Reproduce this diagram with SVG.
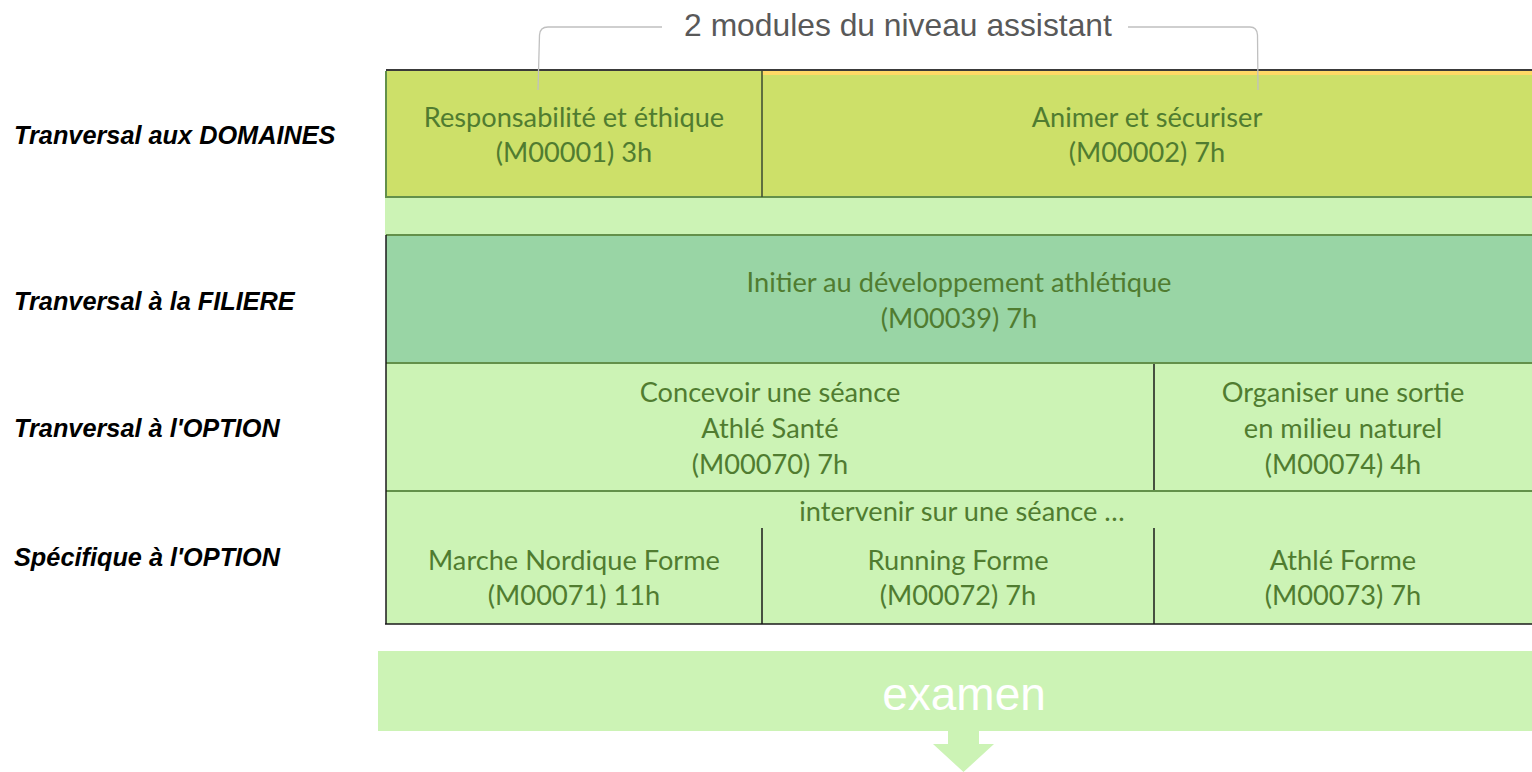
<svg xmlns="http://www.w3.org/2000/svg" width="1532" height="772" viewBox="0 0 1532 772">
<style>
.lbl{font-family:"Liberation Sans",Arial,sans-serif;font-weight:bold;font-style:italic;font-size:25.3px;fill:#000}
.cell{font-family:Lato,"Noto Sans",sans-serif;font-size:27.2px;fill:#507c30;text-anchor:middle}
.gb{stroke:#63904a;stroke-width:2;fill:none}
.dk{stroke:#1a1a1a;stroke-width:1.5;fill:none}
.br{stroke:#c0c0c0;stroke-width:1.3;fill:none}
</style>
<rect width="1532" height="772" fill="#ffffff"/>
<g id="title">
<text x="898" y="36" font-family="Liberation Sans,Arial,sans-serif" font-size="31.8" fill="#595959" text-anchor="middle">2 modules du niveau assistant</text>
</g>
<g id="labels">
<text class="lbl" x="14" y="144">Tranversal aux DOMAINES</text>
<text class="lbl" x="14" y="310">Tranversal à la FILIERE</text>
<text class="lbl" x="14" y="437">Tranversal à l'OPTION</text>
<text class="lbl" x="14" y="566">Spécifique à l'OPTION</text>
</g>
<g id="band">
<rect x="385" y="197" width="1147" height="38" fill="#ccf3b5"/>
</g>
<g id="m00001">
<rect x="386" y="71" width="376" height="126" fill="#cde069"/>
<text class="cell" x="574" y="127">Responsabilité et éthique</text>
<text class="cell" x="574" y="162">(M00001) 3h</text>
</g>
<g id="m00002">
<rect x="762" y="71" width="770" height="126" fill="#cde069"/>
<line x1="762" y1="73" x2="1532" y2="73" stroke="#ffd966" stroke-width="4"/>
<text class="cell" x="1147" y="127">Animer et sécuriser</text>
<text class="cell" x="1147" y="162">(M00002) 7h</text>
</g>
<g id="m00039">
<rect x="386" y="235" width="1146" height="128" fill="#99d5a5"/>
<text class="cell" x="959" y="292">Initier au développement athlétique</text>
<text class="cell" x="959" y="328">(M00039) 7h</text>
</g>
<g id="m00070">
<rect x="386" y="363" width="768" height="128" fill="#ccf3b5"/>
<text class="cell" x="770" y="402">Concevoir une séance</text>
<text class="cell" x="770" y="438">Athlé Santé</text>
<text class="cell" x="770" y="474">(M00070) 7h</text>
</g>
<g id="m00074">
<rect x="1154" y="363" width="378" height="128" fill="#ccf3b5"/>
<text class="cell" x="1343" y="402">Organiser une sortie</text>
<text class="cell" x="1343" y="438">en milieu naturel</text>
<text class="cell" x="1343" y="474">(M00074) 4h</text>
</g>
<g id="specifique">
<rect x="386" y="491" width="1146" height="133" fill="#ccf3b5"/>
<text class="cell" x="962" y="521">intervenir sur une séance …</text>
</g>
<g id="m00071">
<text class="cell" x="574" y="570">Marche Nordique Forme</text>
<text class="cell" x="574" y="605">(M00071) 11h</text>
</g>
<g id="m00072">
<text class="cell" x="958" y="570">Running Forme</text>
<text class="cell" x="958" y="605">(M00072) 7h</text>
</g>
<g id="m00073">
<text class="cell" x="1343" y="570">Athlé Forme</text>
<text class="cell" x="1343" y="605">(M00073) 7h</text>
</g>
<g id="grid">
<line x1="386" y1="70" x2="1532" y2="70" stroke="#3a3a3a" stroke-width="2"/>
<path class="gb" d="M386 71 V197 H1532"/>
<line x1="762" y1="71" x2="762" y2="197" stroke="#3a4a30" stroke-width="1.5"/>
<line class="gb" x1="386" y1="235" x2="1532" y2="235"/>
<line class="gb" x1="386" y1="363" x2="1532" y2="363"/>
<line class="gb" x1="386" y1="491" x2="1532" y2="491"/>
<line class="dk" x1="386" y1="235" x2="386" y2="624"/>
<line class="dk" x1="385" y1="624" x2="1532" y2="624"/>
<line class="dk" x1="1154" y1="364" x2="1154" y2="490"/>
<line class="dk" x1="762" y1="528" x2="762" y2="624"/>
<line class="dk" x1="1154" y1="528" x2="1154" y2="624"/>
</g>
<g id="connectors">
<path class="br" d="M662 27 H548 Q540 27 539.5 35 L538 90"/>
<path class="br" d="M1128 27 H1250 Q1257 27 1257.5 35 L1258 90"/>
</g>
<g id="examen">
<rect x="378" y="651" width="1154" height="80" fill="#ccf3b5"/>
<path d="M948 731 H979 V744 H994 L963.5 772 L933 744 H948 Z" fill="#ccf3b5"/>
<text x="964" y="710" font-family="Liberation Sans,Arial,sans-serif" font-size="46" fill="#ffffff" text-anchor="middle">examen</text>
</g>
</svg>
